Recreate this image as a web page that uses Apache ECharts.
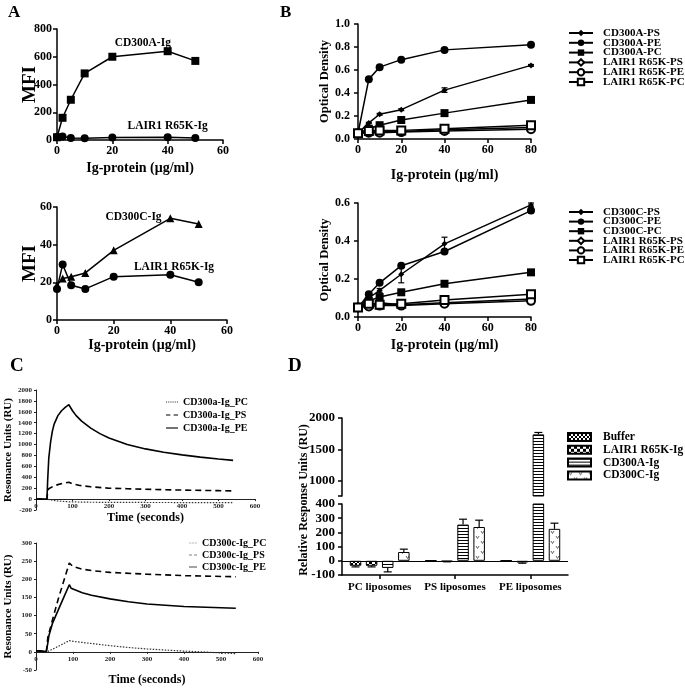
<!DOCTYPE html>
<html><head><meta charset="utf-8">
<script src="https://cdn.jsdelivr.net/npm/echarts@6/dist/echarts.min.js"></script>
<style>html,body{margin:0;padding:0;background:#fff}#c{width:685px;height:688px}</style>
</head><body><div id="c"></div>
<script>
// ---------------- DATA ----------------
// Panel A (MFI vs Ig-protein)
const aConc = [0, 2, 5, 10, 20, 40, 50];
const aTopCD300A = [20, 160, 290, 480, 600, 640, 570];
const aTopLAIR1 = [20, 25, 15, 12, 18, 20, 15];
const aBotCD300C = [18.5, 22, 23, 25, 37, 54, 51];
const aBotLAIR1 = [16.5, 29.5, 18.5, 16.5, 23, 24, 20];

// Panel B (Optical density)
const bConc = [0, 5, 10, 20, 40, 80];
const bTopNames = ['CD300A-PS', 'CD300A-PE', 'CD300A-PC', 'LAIR1 R65K-PS', 'LAIR1 R65K-PE', 'LAIR1 R65K-PC'];
const bTopVals = [
  [0.05, 0.14, 0.215, 0.255, 0.425, 0.64],
  [0.05, 0.52, 0.625, 0.69, 0.775, 0.82],
  [0.05, 0.09, 0.12, 0.165, 0.225, 0.34],
  [0.05, 0.06, 0.065, 0.065, 0.08, 0.10],
  [0.05, 0.055, 0.055, 0.06, 0.07, 0.085],
  [0.05, 0.07, 0.075, 0.075, 0.09, 0.12]
];
const bTopErr = [
  [0, 0.005, 0.008, 0.008, 0.02, 0.008],
  [0, 0.008, 0.008, 0.008, 0.008, 0.008],
  [0, 0.005, 0.005, 0.005, 0.008, 0.008],
  [0, 0, 0, 0, 0, 0],
  [0, 0, 0, 0, 0, 0],
  [0, 0, 0, 0, 0, 0]
];
const bBotNames = ['CD300C-PS', 'CD300C-PE', 'CD300C-PC', 'LAIR1 R65K-PS', 'LAIR1 R65K-PE', 'LAIR1 R65K-PC'];
const bBotVals = [
  [0.05, 0.10, 0.14, 0.225, 0.385, 0.59],
  [0.05, 0.12, 0.18, 0.27, 0.345, 0.56],
  [0.05, 0.085, 0.105, 0.13, 0.175, 0.235],
  [0.05, 0.065, 0.075, 0.065, 0.075, 0.095],
  [0.05, 0.055, 0.06, 0.06, 0.07, 0.085],
  [0.05, 0.07, 0.065, 0.07, 0.09, 0.12]
];
const bBotErr = [
  [0, 0.01, 0.01, 0.045, 0.035, 0.01],
  [0, 0.008, 0.008, 0.008, 0.008, 0.012],
  [0, 0, 0.005, 0.005, 0.005, 0.005],
  [0, 0, 0, 0, 0, 0],
  [0, 0, 0, 0, 0, 0],
  [0, 0, 0, 0, 0, 0]
];

// Panel C (SPR sensorgrams) - time (s) and RU
const cTopPC_t = [0, 30, 40, 60, 90, 150, 300, 540];
const cTopPC_v = [0, 0, -15, -35, -50, -58, -62, -65];
const cTopPS_t = [0, 30, 32, 35, 40, 50, 60, 75, 90, 100, 120, 150, 200, 250, 300, 400, 500, 540];
const cTopPS_v = [0, 0, 150, 190, 215, 245, 265, 290, 310, 280, 250, 225, 200, 190, 180, 165, 155, 150];
const cTopPE_t = [0, 30, 32, 35, 40, 45, 50, 60, 70, 80, 90, 100, 110, 125, 150, 175, 200, 250, 300, 350, 400, 450, 500, 540];
const cTopPE_v = [0, 0, 350, 750, 1050, 1250, 1380, 1530, 1620, 1680, 1730, 1620, 1530, 1430, 1300, 1200, 1120, 1000, 920, 860, 810, 770, 735, 710];

const cBotPC_t = [0, 10, 20, 30, 40, 60, 90, 100, 150, 200, 250, 300, 350, 400, 450, 500, 540];
const cBotPC_v = [4, 3, 2, 0, 5, 15, 31, 29, 23, 17, 12, 8, 5, 2, 0, -3, -5];
const cBotPS_t = [0, 15, 28, 30, 32, 45, 60, 75, 90, 100, 125, 150, 200, 300, 400, 540];
const cBotPS_v = [3, 2, 1, 0, 40, 90, 145, 195, 245, 235, 228, 224, 219, 214, 210, 207];
const cBotPE_t = [0, 15, 28, 30, 32, 35, 45, 60, 75, 90, 95, 100, 125, 150, 200, 250, 300, 400, 540];
const cBotPE_v = [3, 2, 1, -1, 25, 45, 80, 115, 150, 185, 175, 170, 163, 156, 146, 138, 132, 125, 120];

// Panel D (relative response units)
const dCats = ['PC liposomes', 'PS liposomes', 'PE liposomes'];
const dNames = ['Buffer', 'LAIR1 R65K-Ig', 'CD300A-Ig', 'CD300C-Ig'];
const dVals = [
  [-35, 2, 2],
  [-35, -5, -12],
  [-50, 255, 1740],
  [62, 238, 225]
];
const dErr = [
  [8, 0, 0],
  [8, 2, 5],
  [28, 38, 30],
  [20, 48, 40]
];

// ---------------- STYLE ----------------
const SERIF = "'Liberation Serif', 'Times New Roman', serif";
const BLK = '#000';
const plain = v => String(Math.round(v * 1000) / 1000);

// grid boxes (layout only)
const G = {
  aTop: {left: 57, top: 29, width: 166, height: 111},
  aBot: {left: 57, top: 207, width: 170, height: 113},
  bTop: {left: 358, top: 24, width: 173, height: 115},
  bBot: {left: 358, top: 203, width: 173, height: 114},
  cTop: {left: 36, top: 390, width: 219, height: 120},
  cBot: {left: 36, top: 543, width: 222, height: 127},
  dUp: {left: 342, top: 418, width: 226, height: 78},
  dLo: {left: 342, top: 504, width: 226, height: 71}
};
const C_TOP_Y = [-200, 2000, 200];
const C_BOT_Y = [-50, 300, 50];

function prismX(grid, min, max, interval, name, gap) {
  return {
    type: 'value', gridIndex: grid, min, max, interval,
    name, nameLocation: 'middle', nameGap: gap, nameMoveOverlap: false,
    nameTextStyle: {fontFamily: SERIF, fontWeight: 'bold', fontSize: 14, color: BLK},
    axisLine: {show: true, onZero: false, lineStyle: {color: BLK, width: 1.5}},
    axisTick: {show: true, length: 4, lineStyle: {color: BLK, width: 1.5}},
    axisLabel: {fontFamily: SERIF, fontWeight: 'bold', fontSize: 12, color: BLK, margin: 5},
    splitLine: {show: false}
  };
}
function prismY(grid, min, max, interval, name, gap, nameSize, fmt, margin) {
  return {
    type: 'value', gridIndex: grid, min, max, interval,
    name, nameLocation: 'middle', nameGap: gap, nameMoveOverlap: false,
    nameTextStyle: {fontFamily: SERIF, fontWeight: 'bold', fontSize: nameSize, color: BLK},
    axisLine: {show: true, onZero: false, lineStyle: {color: BLK, width: 1.5}},
    axisTick: {show: true, length: 4, lineStyle: {color: BLK, width: 1.5}},
    axisLabel: {fontFamily: SERIF, fontWeight: 'bold', fontSize: 12, color: BLK, margin: margin, formatter: fmt},
    splitLine: {show: false}
  };
}
// x axis crossing the y axis at value 0 (Excel style); offset derived from the y range
function excelX(grid, box, yr, gap) {
  const zeroOffset = -box.height * (0 - yr[0]) / (yr[1] - yr[0]);
  return {
    type: 'value', gridIndex: grid, min: 0, max: 600, interval: 100, offset: zeroOffset,
    name: 'Time (seconds)', nameLocation: 'middle', nameGap: gap, nameMoveOverlap: false,
    nameTextStyle: {fontFamily: SERIF, fontWeight: 'bold', fontSize: 12, color: BLK},
    axisLine: {show: true, onZero: false, lineStyle: {color: '#222', width: 1}},
    axisTick: {show: true, length: 2, lineStyle: {color: '#222', width: 1}},
    axisLabel: {fontFamily: SERIF, fontWeight: 'bold', fontSize: 7, color: '#222', margin: 4, formatter: plain},
    splitLine: {show: false}
  };
}
function excelY(grid, yr) {
  return {
    type: 'value', gridIndex: grid, min: yr[0], max: yr[1], interval: yr[2],
    name: 'Resonance Units (RU)', nameLocation: 'middle', nameGap: 22, nameMoveOverlap: false,
    nameTextStyle: {fontFamily: SERIF, fontWeight: 'bold', fontSize: 11, color: BLK},
    axisLine: {show: true, onZero: false, lineStyle: {color: '#222', width: 1}},
    axisTick: {show: true, length: 2, lineStyle: {color: '#222', width: 1}},
    axisLabel: {fontFamily: SERIF, fontWeight: 'bold', fontSize: 7, color: '#222', margin: 4, formatter: plain},
    splitLine: {show: false}
  };
}

function zip(xs, ys) { return xs.map((x, i) => [x, ys[i]]); }

function pat(w, h, draw) {
  const c = document.createElement('canvas');
  c.width = w; c.height = h;
  const g = c.getContext('2d');
  g.fillStyle = '#fff'; g.fillRect(0, 0, w, h);
  draw(g);
  return {image: c, repeat: 'repeat'};
}
const patBuffer = pat(4, 4, g => {
  g.fillStyle = '#000';
  [[0,0],[1,1],[2,2],[3,3],[3,0],[2,1],[1,2],[0,3]].forEach(p => g.fillRect(p[0], p[1], 1, 1));
});
const patLAIR = pat(6, 6, g => {
  g.fillStyle = '#000'; g.fillRect(0, 0, 3, 3); g.fillRect(3, 3, 3, 3);
});
const patCD300A = pat(4, 3, g => { g.fillStyle = '#000'; g.fillRect(0, 0, 4, 1); });
const patCD300C = pat(10, 10, g => {
  g.strokeStyle = '#555'; g.lineWidth = 0.9;
  g.beginPath(); g.moveTo(1, 1); g.lineTo(2.5, 3.5); g.lineTo(4, 1); g.stroke();
  g.beginPath(); g.moveTo(6, 6); g.lineTo(7.5, 8.5); g.lineTo(9, 6); g.stroke();
});
const dPatterns = [patBuffer, patLAIR, patCD300A, patCD300C];

// legend line icons for panel C
const ICON_DOT = 'path://M0,0h1v1h-1zM2,0h1v1h-1zM4,0h1v1h-1zM6,0h1v1h-1zM8,0h1v1h-1zM10,0h1v1h-1z';
const ICON_DASH = 'path://M0,0h4v1h-4zM7,0h4v1h-4z';
const ICON_SOLID = 'path://M0,0h11v1h-11z';

// ---------------- SERIES ----------------
const series = [];
const annot = (coord, text) => ({symbol: 'circle', symbolSize: 0, silent: true,
  data: [{coord}],
  label: {show: true, position: 'inside', formatter: text, fontFamily: SERIF, fontWeight: 'bold', fontSize: 11.5, color: BLK}});

// A top
series.push({
  name: 'A-CD300A', type: 'line', xAxisIndex: 0, yAxisIndex: 0,
  data: zip(aConc, aTopCD300A), symbol: 'rect', symbolSize: 8,
  lineStyle: {color: BLK, width: 1.5}, itemStyle: {color: BLK},
  markPoint: annot([31, 699], 'CD300A-Ig')
});
series.push({
  name: 'A-LAIR1top', type: 'line', xAxisIndex: 0, yAxisIndex: 0,
  data: zip(aConc, aTopLAIR1), symbol: 'circle', symbolSize: 8,
  lineStyle: {color: BLK, width: 1.5}, itemStyle: {color: BLK},
  markPoint: annot([40, 101], 'LAIR1 R65K-Ig')
});
// A bottom
series.push({
  name: 'A-CD300C', type: 'line', xAxisIndex: 1, yAxisIndex: 1,
  data: zip(aConc, aBotCD300C), symbol: 'triangle', symbolSize: 8,
  lineStyle: {color: BLK, width: 1.5}, itemStyle: {color: BLK},
  markPoint: annot([27, 54.7], 'CD300C-Ig')
});
series.push({
  name: 'A-LAIR1bot', type: 'line', xAxisIndex: 1, yAxisIndex: 1,
  data: zip(aConc, aBotLAIR1), symbol: 'circle', symbolSize: 8,
  lineStyle: {color: BLK, width: 1.5}, itemStyle: {color: BLK},
  markPoint: annot([41.3, 28.1], 'LAIR1 R65K-Ig')
});

// B
const bSymbols = ['diamond', 'circle', 'rect', 'emptyDiamond', 'emptyCircle', 'emptyRect'];
const bSizes = [6, 8, 8, 7, 8, 8];
function lineErrRender(params, api) {
  const x = api.value(0), y = api.value(1), e = api.value(2);
  if (!e) return null;
  const t = api.coord([x, y + e]), b = api.coord([x, y - e]);
  const hw = 3, st = {stroke: BLK, lineWidth: 1.2};
  return {type: 'group', children: [
    {type: 'line', shape: {x1: t[0], y1: t[1], x2: b[0], y2: b[1]}, style: st},
    {type: 'line', shape: {x1: t[0] - hw, y1: t[1], x2: t[0] + hw, y2: t[1]}, style: st},
    {type: 'line', shape: {x1: b[0] - hw, y1: b[1], x2: b[0] + hw, y2: b[1]}, style: st}
  ]};
}
[[bTopNames, bTopVals, bTopErr, 2], [bBotNames, bBotVals, bBotErr, 3]].forEach(([names, vals, errs, gi]) => {
  names.forEach((nm, k) => {
    series.push({
      type: 'custom', xAxisIndex: gi, yAxisIndex: gi, silent: true, z: 1,
      renderItem: lineErrRender,
      data: bConc.map((x, i) => [x, vals[k][i], errs[k][i]])
    });
  });
  names.forEach((nm, k) => {
    series.push({
      name: nm, type: 'line', xAxisIndex: gi, yAxisIndex: gi, z: 2 + (k < 3 ? 0 : 1),
      data: zip(bConc, vals[k]), symbol: bSymbols[k], symbolSize: bSizes[k],
      lineStyle: {color: BLK, width: 1.5}, itemStyle: {color: BLK, borderColor: BLK, borderWidth: k >= 3 ? 1.3 : 0}
    });
  });
});

// C
const cLine = (name, gi, t, v, type, width, color) => ({
  name, type: 'line', xAxisIndex: gi, yAxisIndex: gi, data: zip(t, v), symbol: 'none',
  lineStyle: {color, width, type}, itemStyle: {color}
});
series.push(cLine('CD300a-Ig_PC', 4, cTopPC_t, cTopPC_v, [1.5, 1.5], 1.2, '#333'));
series.push(cLine('CD300a-Ig_PS', 4, cTopPS_t, cTopPS_v, [6, 4], 1.6, BLK));
series.push(cLine('CD300a-Ig_PE', 4, cTopPE_t, cTopPE_v, 'solid', 1.6, BLK));
series.push(cLine('CD300c-Ig_PC', 5, cBotPC_t, cBotPC_v, [1.5, 1.5], 1.2, '#333'));
series.push(cLine('CD300c-Ig_PS', 5, cBotPS_t, cBotPS_v, [6, 4], 1.6, BLK));
series.push(cLine('CD300c-Ig_PE', 5, cBotPE_t, cBotPE_v, 'solid', 1.6, BLK));

// D
const BAR_W = 11.5, BAR_GAP = 0.4;
function barErrRender(k) {
  return function (params, api) {
    const c = api.value(0), v = api.value(1), e = api.value(2);
    if (!e) return null;
    const off = (k - 1.5) * BAR_W * (1 + BAR_GAP);
    const s = v >= 0 ? 1 : -1;
    const p0 = api.coord([c, v]), p1 = api.coord([c, v + s * e]);
    const x = p0[0] + off, hw = 4, st = {stroke: BLK, lineWidth: 1.2};
    return {type: 'group', children: [
      {type: 'line', shape: {x1: x, y1: p0[1], x2: x, y2: p1[1]}, style: st},
      {type: 'line', shape: {x1: x - hw, y1: p1[1], x2: x + hw, y2: p1[1]}, style: st}
    ]};
  };
}
[7, 6].forEach(gi => {
  dNames.forEach((nm, k) => {
    const s = {
      name: nm, type: 'bar', xAxisIndex: gi, yAxisIndex: gi, clip: true,
      data: dVals[k], barWidth: BAR_W, barGap: (BAR_GAP * 100) + '%',
      itemStyle: {color: dPatterns[k], borderColor: BLK, borderWidth: 1}
    };
    if (gi === 7 && k === 0) {
      s.markLine = {silent: true, symbol: 'none', label: {show: false},
        lineStyle: {color: BLK, width: 1.2, type: 'solid'}, data: [{yAxis: 0}]};
    }
    series.push(s);
  });
  dNames.forEach((nm, k) => {
    series.push({
      type: 'custom', xAxisIndex: gi, yAxisIndex: gi, clip: true, silent: true, z: 3,
      renderItem: barErrRender(k),
      data: dVals[k].map((v, i) => [i, v, dErr[k][i]])
    });
  });
});

// ---------------- OPTION ----------------
const legendText = (size) => ({fontFamily: SERIF, fontWeight: 'bold', fontSize: size, color: BLK});
const gridOf = b => Object.assign({outerBoundsMode: 'none'}, b);
const option = {
  animation: false,
  backgroundColor: '#fff',
  grid: [G.aTop, G.aBot, G.bTop, G.bBot, G.cTop, G.cBot, G.dUp, G.dLo].map(gridOf),
  xAxis: [
    prismX(0, 0, 60, 20, 'Ig-protein (μg/ml)', 21),
    prismX(1, 0, 60, 20, 'Ig-protein (μg/ml)', 18),
    prismX(2, 0, 80, 20, 'Ig-protein (μg/ml)', 29),
    prismX(3, 0, 80, 20, 'Ig-protein (μg/ml)', 21),
    excelX(4, G.cTop, C_TOP_Y, 13),
    excelX(5, G.cBot, C_BOT_Y, 22),
    {type: 'category', gridIndex: 6, data: dCats, show: false},
    {type: 'category', gridIndex: 7, data: dCats,
      axisLine: {show: true, onZero: false, lineStyle: {color: BLK, width: 1.5}},
      axisTick: {show: true, alignWithLabel: true, length: 4, lineStyle: {color: BLK, width: 1.5}},
      axisLabel: {fontFamily: SERIF, fontWeight: 'bold', fontSize: 11, color: BLK, margin: 7, interval: 0, hideOverlap: false}}
  ],
  yAxis: [
    prismY(0, 0, 800, 200, 'MFI', 17, 19, plain, 5),
    prismY(1, 0, 60, 20, 'MFI', 17, 19, plain, 5),
    prismY(2, 0, 1.0, 0.2, 'Optical Density', 27, 12.5, v => v.toFixed(1), 8),
    prismY(3, 0, 0.6, 0.2, 'Optical Density', 27, 12.5, v => v.toFixed(1), 8),
    excelY(4, C_TOP_Y),
    excelY(5, C_BOT_Y),
    {type: 'value', gridIndex: 6, min: 760, max: 2000,
      axisLine: {show: true, onZero: false, lineStyle: {color: BLK, width: 1.5}},
      axisTick: {show: true, length: 4, customValues: [760, 1000, 1500, 2000], lineStyle: {color: BLK, width: 1.5}},
      axisLabel: {fontFamily: SERIF, fontWeight: 'bold', fontSize: 13, color: BLK, margin: 7, customValues: [1000, 1500, 2000], formatter: plain},
      splitLine: {show: false}},
    {type: 'value', gridIndex: 7, min: -100, max: 400, interval: 100,
      axisLine: {show: true, onZero: false, lineStyle: {color: BLK, width: 1.5}},
      axisTick: {show: true, length: 4, lineStyle: {color: BLK, width: 1.5}},
      axisLabel: {fontFamily: SERIF, fontWeight: 'bold', fontSize: 13, color: BLK, margin: 7, formatter: plain},
      splitLine: {show: false}}
  ],
  legend: [
    {data: bTopNames, orient: 'vertical', left: 568, top: 27.5, padding: 0, itemWidth: 24, itemHeight: 8, itemGap: -1.2,
      selectedMode: false, textStyle: Object.assign(legendText(11), {padding: [0, 0, 0, 5]})},
    {data: bBotNames, orient: 'vertical', left: 568, top: 206.5, padding: 0, itemWidth: 24, itemHeight: 8, itemGap: -1.4,
      selectedMode: false, textStyle: Object.assign(legendText(11), {padding: [0, 0, 0, 5]})},
    {data: [{name: 'CD300a-Ig_PC', icon: ICON_DOT}, {name: 'CD300a-Ig_PS', icon: ICON_DASH}, {name: 'CD300a-Ig_PE', icon: ICON_SOLID}],
      orient: 'vertical', left: 166, top: 397, padding: 0,
      itemWidth: 12, itemHeight: 2, itemGap: 3, selectedMode: false,
      textStyle: legendText(10)},
    {data: [{name: 'CD300c-Ig_PC', icon: ICON_DOT}, {name: 'CD300c-Ig_PS', icon: ICON_DASH}, {name: 'CD300c-Ig_PE', icon: ICON_SOLID}],
      orient: 'vertical', left: 189, top: 538, padding: 0,
      itemWidth: 8, itemHeight: 2, itemGap: 2, selectedMode: false,
      textStyle: legendText(10)},
    {data: dNames, orient: 'vertical', left: 567, top: 431, padding: 0, icon: 'rect', itemWidth: 23, itemHeight: 8, itemGap: 0.8,
      selectedMode: false, textStyle: Object.assign(legendText(11.5), {padding: [0, 0, 0, 7]})}
  ],
  graphic: [
    {type: 'text', left: 8, top: 4, style: {text: 'A', font: "bold 17px 'Liberation Serif', serif", fill: BLK}},
    {type: 'text', left: 280, top: 4, style: {text: 'B', font: "bold 17px 'Liberation Serif', serif", fill: BLK}},
    {type: 'text', left: 10, top: 357, style: {text: 'C', font: "bold 19px 'Liberation Serif', serif", fill: BLK}},
    {type: 'text', left: 288, top: 357, style: {text: 'D', font: "bold 19px 'Liberation Serif', serif", fill: BLK}},
    {type: 'text', x: 304, y: 500, rotation: Math.PI / 2,
      style: {text: 'Relative Response Units (RU)', font: "bold 12px 'Liberation Serif', serif", fill: BLK,
        textAlign: 'center', textVerticalAlign: 'middle'}}
  ],
  series
};
const chart = echarts.init(document.getElementById('c'), null, {renderer: 'canvas'});
chart.setOption(option);
</script>
</body></html>
